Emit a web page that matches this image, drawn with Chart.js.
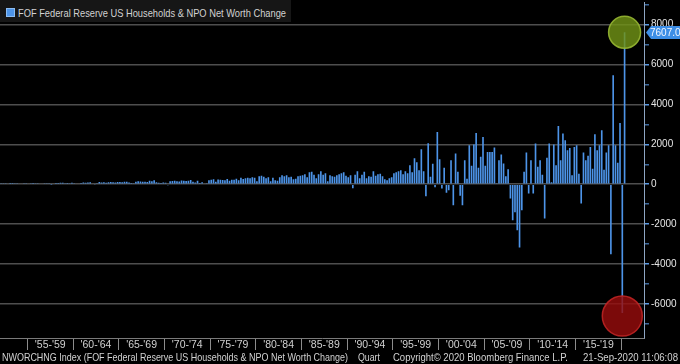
<!DOCTYPE html>
<html><head><meta charset="utf-8">
<script src="https://cdn.jsdelivr.net/npm/chart.js@4.4.1/dist/chart.umd.min.js"></script>
<style>
html,body{margin:0;padding:0;background:#000;width:680px;height:364px;overflow:hidden}
#wrap{position:relative;width:680px;height:364px;background:#000}
canvas{position:absolute;left:0;top:0}
.t{position:absolute;white-space:nowrap;font-family:'Liberation Sans',Arial,sans-serif;font-size:10.5px;line-height:12px;color:#d2d2d2;transform-origin:0 50%}
#legendBox{position:absolute;left:0;top:0;width:291px;height:22px;background:#161616}
#legendSwatch{position:absolute;left:6px;top:8px;width:7px;height:7px;background:#4d94e8;border:1px solid #8cbcf2}
</style></head>
<body><div id="wrap"><canvas id="c" width="680" height="364"></canvas>
<div id="legendBox"><div id="legendSwatch"></div></div>
<span class="t" id="legendText" style="top:7px">FOF Federal Reserve US Households &amp; NPO Net Worth Change</span>
<span class="t" id="f1" style="top:351px">NWORCHNG Index (FOF Federal Reserve US Households &amp; NPO Net Worth Change)</span>
<span class="t" id="f2" style="top:351px">Quart</span>
<span class="t" id="f3" style="top:351px">Copyright© 2020 Bloomberg Finance L.P.</span>
<span class="t" id="f4" style="top:351px">21-Sep-2020 11:06:08</span>
</div>
<script>
// ---- DATA (quarterly change, USD bn) ----
const firstYear = 1952;
const lastLabelYear = 2022;
const chg1952_1969 = [
  25,30,20,35, 15,10,20,30, 35,40,45,50, 40,55,60,45, 50,40,35,55, 30,20,-15,40,
  60,65,70,80, 55,60,45,70, 30,40,35,60, 90,80,85,95, 40,-30,50,110, 90,95,80,100,
  110,105,90,115, 110,95,120,130, 90,60,30,120, 150,140,120,130, 110,180,150,200, 100,80,60,90
];
const chg1970_1989 = [
  70,-50,150,160, 180,150,140,190, 170,160,180,210, 120,90,180,60, 100,40,20,200,
  220,250,130,240, 220,210,200,260, 180,230,220,270, 200,320,260,300, 320,300,350,330,
  150,400,420,380, 300,350,150,330, 200,180,350,450, 400,450,350,380, 250,280,400,420,
  450,500,350,600, 620,480,300,500, 650,480,550,150, 450,400,380,450, 500,550,600,420
];
const chg1990_2008 = [
  350,450,-200,480, 650,300,480,620, 300,400,380,650, 420,500,520,400, 250,200,300,350,
  550,600,650,700, 500,650,550,950, 600,1300,1100,700, 1750,650,-600,2050,
  370,1030,-150,2620, 1250,-220,820,-430, -300,1200,-1050,1540, 620,-580,-1050,1200,
  280,1950,920,1990, 2570,820,1370,2370, 920,1620,1620,1620, 1840,50,1200,1490,
  1035,400,750,-720, -1800,-1400,-2300,-3170
];
const chg2009_2020 = [
  -1300,620,1590,-470, 1200,-470,2040,870, 1200,480,-1720,1320, 2040,100,1990,950,
  2920,1200,2540,2200, 1700,1820,450,1870, 1950,530,-970,1590, 1200,1420,1870,780,
  2500,1700,1950,2700, 730,1590,1950,-3500, 5460,1950,1070,3070, -6450,7607
];
const periodStarts = [1955,1960,1965,1970,1975,1980,1985,1990,1995,2000,2005,2010,2015];
const periodLabels = ["'55-'59","'60-'64","'65-'69","'70-'74","'75-'79","'80-'84","'85-'89","'90-'94","'95-'99","'00-'04","'05-'09","'10-'14","'15-'19"];
const yTickValues = [-7000,-6000,-5000,-4000,-3000,-2000,-1000,0,1000,2000,3000,4000,5000,6000,7000,8000,9000];

const values = chg1952_1969.concat(chg1970_1989, chg1990_2008, chg2009_2020);
const quarterLabels = [];
for (let y = firstYear; y <= lastLabelYear; y++) for (let q = 1; q <= 4; q++) quarterLabels.push(y + ' Q' + q);
quarterLabels.length = quarterLabels.length - 2; // through 2022 Q2

const labelAt = new Map();
const boundaries = new Set();
periodStarts.forEach((s, i) => {
  const idx = (s - firstYear) * 4;
  boundaries.add(idx);
  boundaries.add(idx + 20);
  labelAt.set(idx + 10, periodLabels[i]);
});

const BLUE = '#4d94e8';
const FONT = "'Liberation Sans', Arial, sans-serif";

const bgPlugin = {
  id: 'bg',
  beforeDraw(chart) {
    const c = chart.ctx; c.save(); c.fillStyle = '#000'; c.fillRect(0, 0, chart.width, chart.height); c.restore();
  }
};
const markPlugin = {
  id: 'marks',
  afterDatasetsDraw(chart) {
    const c = chart.ctx, xs = chart.scales.x, ys = chart.scales.y;
    const last = values.length - 1;
    const rings = [
      { i: last, dy: 0, r: 16, fill: 'rgba(112,146,22,0.82)', stroke: 'rgba(150,182,50,0.9)' },
      { i: last - 1, dy: 3, r: 20, fill: 'rgba(150,12,12,0.82)', stroke: 'rgba(190,35,35,0.9)' }
    ];
    c.save();
    rings.forEach(o => {
      const x = xs.getPixelForValue(o.i), y = ys.getPixelForValue(values[o.i]) + o.dy;
      c.beginPath(); c.arc(x, y, o.r, 0, Math.PI * 2);
      c.fillStyle = o.fill; c.fill();
      c.lineWidth = 1.5; c.strokeStyle = o.stroke; c.stroke();
    });
    c.restore();
  },
  afterDraw(chart) {
    const c = chart.ctx, ys = chart.scales.y, area = chart.chartArea;
    const v = values[values.length - 1];
    const y = Math.round(ys.getPixelForValue(v)) + 0.5;
    const x0 = area.right + 2;
    c.save();
    c.beginPath();
    c.moveTo(x0, y); c.lineTo(x0 + 5, y - 6.5); c.lineTo(chart.width, y - 6.5);
    c.lineTo(chart.width, y + 6.5); c.lineTo(x0 + 5, y + 6.5); c.closePath();
    c.fillStyle = '#3d8ee6'; c.fill();
    c.fillStyle = '#f2f7ff'; c.font = '10px ' + FONT; c.textBaseline = 'middle'; c.textAlign = 'left';
    c.fillText(v.toFixed(1), x0 + 4, y + 0.5);
    c.restore();
  }
};

new Chart(document.getElementById('c'), {
  type: 'bar',
  data: {
    labels: quarterLabels,
    datasets: [{ data: values, backgroundColor: BLUE, borderWidth: 0, barPercentage: 0.72, categoryPercentage: 1 }]
  },
  options: {
    responsive: false, animation: false, devicePixelRatio: 1,
    layout: { padding: { left: 0, right: 0, top: 0, bottom: 12 } },
    plugins: { legend: { display: false }, tooltip: { enabled: false } },
    scales: {
      x: {
        offset: true,
        afterFit: s => { s.height = 14; },
        border: { display: true, color: '#7a7a7a', width: 1 },
        grid: { offset: true, drawOnChartArea: false, drawTicks: true, tickLength: 12,
          color: 'rgba(0,0,0,0)',
          tickColor: ctx => boundaries.has(ctx.index) ? '#8c8c8c' : 'rgba(0,0,0,0)' },
        ticks: { autoSkip: false, maxRotation: 0, minRotation: 0, padding: -11, labelOffset: -1.14,
          color: '#d0d0d0', font: { family: FONT, size: 10.5 },
          callback: (val, idx) => labelAt.get(idx) || '' }
      },
      y: {
        position: 'right', min: -7700, max: 9100,
        afterBuildTicks: s => { s.ticks = yTickValues.map(v => ({ value: v })); },
        afterFit: s => { s.width = 36; },
        border: { display: true, color: '#8ea6c4', width: 1 },
        grid: {
          color: ctx => (ctx.tick && ctx.tick.value % 2000 === 0) ? '#4e4e4e' : 'rgba(0,0,0,0)',
          lineWidth: 1.5, drawTicks: true, tickLength: 5,
          tickColor: ctx => (ctx.tick && ctx.tick.value % 2000 === 0) ? '#5b9be6' : '#3f6b9e'
        },
        ticks: { autoSkip: false, padding: 2, color: '#e6e6e6', font: { family: FONT, size: 10, lineHeight: 0.1 },
          callback: v => (v % 2000 === 0) ? String(v) : '' }
      }
    }
  },
  plugins: [bgPlugin, markPlugin]
});

function fit(id, left, right) {
  const el = document.getElementById(id);
  el.style.left = left + 'px';
  const w = el.getBoundingClientRect().width;
  el.style.transform = 'scaleX(' + ((right - left) / w) + ')';
}
fit('legendText', 18, 286);
fit('f1', 2, 348);
fit('f2', 358, 380);
fit('f3', 393, 568);
fit('f4', 583, 678);
</script>
</body></html>
